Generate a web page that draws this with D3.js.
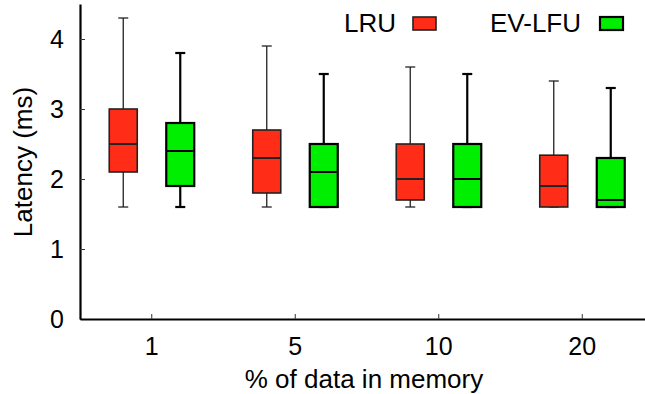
<!DOCTYPE html>
<html>
<head>
<meta charset="utf-8">
<script src="https://cdn.jsdelivr.net/npm/d3@7"></script>
<style>
  body { margin: 0; background: #fff; }
  svg { display: block; font-family: "Liberation Sans", Arial, sans-serif; }
  .axis text { font-size: 25px; fill: #000; }
</style>
</head>
<body>
<div id="chart"></div>
<script>
// data: one box per policy per memory size
var categories = ["1", "5", "10", "20"];
var series = ["LRU", "EV-LFU"];
var yTicks = [0, 1, 2, 3, 4];

// [min, q1, median, q3, max] for each category
var lruBoxes = [
  [1.6, 2.1, 2.5, 3.0, 4.3],
  [1.6, 1.8, 2.3, 2.7, 3.9],
  [1.6, 1.7, 2.0, 2.5, 3.6],
  [1.6, 1.6, 1.9, 2.34, 3.4]
];
var evlfuBoxes = [
  [1.6, 1.9, 2.4, 2.8, 3.8],
  [1.6, 1.6, 2.1, 2.5, 3.5],
  [1.6, 1.6, 2.0, 2.5, 3.5],
  [1.6, 1.6, 1.7, 2.3, 3.3]
];

var W = 645, H = 394;
// plot edges (note: "top" is taken by window.top)
var plotLeft = 80, plotBottom = 319, plotTop = 4;

var svg = d3.select("#chart").append("svg")
  .attr("width", W)
  .attr("height", H);

var x = d3.scaleBand().domain(categories).range([plotLeft, 654]);
var y = d3.scaleLinear().domain([0, 4.5]).range([plotBottom, plotTop]);

// style per series
var styles = [
  { name: series[0], data: lruBoxes, fill: "rgb(255,45,24)", offset: -28.5,
    boxStroke: "#222", boxWidth: 1.6, whiskerStroke: "#222", whiskerWidth: 1.3 },
  { name: series[1], data: evlfuBoxes, fill: "rgb(0,238,0)", offset: 28.5,
    boxStroke: "#000", boxWidth: 2.2, whiskerStroke: "#000", whiskerWidth: 2.2 }
];
var boxW = 28, capW = 10;

styles.forEach(function(s) {
  var g = svg.append("g").attr("class", "series");
  var items = g.selectAll("g.box")
    .data(s.data.map(function(d, i) { return { cat: categories[i], v: d }; }))
    .enter().append("g")
    .attr("class", "box")
    .attr("transform", function(d) {
      return "translate(" + (x(d.cat) + x.bandwidth() / 2 + s.offset) + ",0)";
    });

  // whisker
  items.append("line")
    .attr("x1", 0).attr("x2", 0)
    .attr("y1", function(d) { return y(d.v[0]); })
    .attr("y2", function(d) { return y(d.v[4]); })
    .attr("stroke", s.whiskerStroke)
    .attr("stroke-width", s.whiskerWidth);
  // caps
  [0, 4].forEach(function(k) {
    items.append("line")
      .attr("x1", -capW / 2).attr("x2", capW / 2)
      .attr("y1", function(d) { return y(d.v[k]); })
      .attr("y2", function(d) { return y(d.v[k]); })
      .attr("stroke", s.whiskerStroke)
      .attr("stroke-width", s.whiskerWidth);
  });
  // box
  items.append("rect")
    .attr("x", -boxW / 2)
    .attr("width", boxW)
    .attr("y", function(d) { return y(d.v[3]); })
    .attr("height", function(d) { return y(d.v[1]) - y(d.v[3]); })
    .attr("fill", s.fill)
    .attr("stroke", s.boxStroke)
    .attr("stroke-width", s.boxWidth);
  // median
  items.append("line")
    .attr("x1", -boxW / 2).attr("x2", boxW / 2)
    .attr("y1", function(d) { return y(d.v[2]); })
    .attr("y2", function(d) { return y(d.v[2]); })
    .attr("stroke", s.boxStroke)
    .attr("stroke-width", 2);
});

// axes
svg.append("g")
  .attr("class", "axis")
  .attr("transform", "translate(" + plotLeft + ",0)")
  .call(d3.axisLeft(y).tickValues(yTicks).tickFormat(d3.format("d"))
    .tickSizeInner(-5).tickSizeOuter(0).tickPadding(16));

svg.append("g")
  .attr("class", "axis")
  .attr("transform", "translate(0," + plotBottom + ")")
  .call(d3.axisBottom(x).tickSizeInner(-5).tickSizeOuter(0).tickPadding(18));

svg.selectAll(".axis .domain").attr("stroke", "#000").attr("stroke-width", 2.2);
svg.selectAll(".axis .tick line").attr("stroke", "#333").attr("stroke-width", 1);

// axis titles
svg.append("text")
  .attr("x", 364)
  .attr("y", 388)
  .attr("text-anchor", "middle")
  .style("font-size", "26px")
  .text("% of data in memory");

svg.append("text")
  .attr("transform", "translate(32,162) rotate(-90)")
  .attr("text-anchor", "middle")
  .style("font-size", "26px")
  .text("Latency (ms)");

// legend
var legend = [
  { label: series[0], textRight: 396, boxX: 413, fill: styles[0].fill, stroke: "#222", sw: 1.6 },
  { label: series[1], textRight: 581, boxX: 600, fill: styles[1].fill, stroke: "#000", sw: 2.2 }
];
var lg = svg.selectAll("g.legend").data(legend).enter().append("g").attr("class", "legend");
lg.append("text")
  .attr("x", function(d) { return d.textRight; })
  .attr("y", 32)
  .attr("text-anchor", "end")
  .style("font-size", "26px")
  .text(function(d) { return d.label; });
lg.append("rect")
  .attr("x", function(d) { return d.boxX; })
  .attr("y", 17)
  .attr("width", 23)
  .attr("height", 13)
  .attr("fill", function(d) { return d.fill; })
  .attr("stroke", function(d) { return d.stroke; })
  .attr("stroke-width", function(d) { return d.sw; });
</script>
</body>
</html>
